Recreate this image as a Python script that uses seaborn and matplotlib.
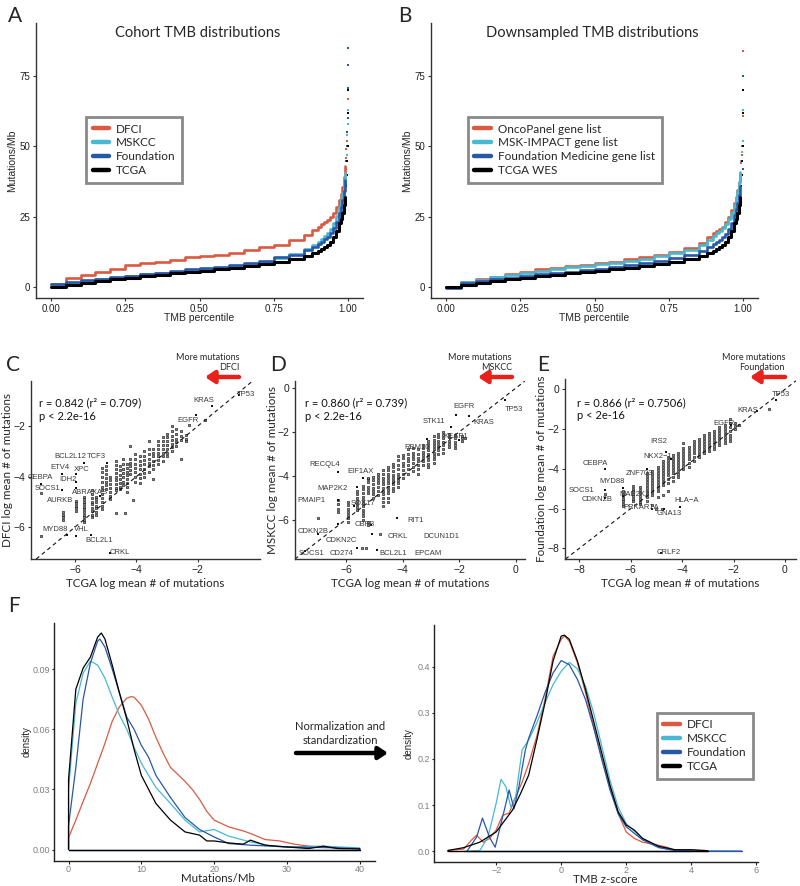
import matplotlib
matplotlib.use('Agg')
import matplotlib.pyplot as plt
from matplotlib.lines import Line2D
import pandas as pd
import seaborn as sns

W, H = 800, 886

RED = '#DA5A40'
CYAN = '#48B9D0'
BLUE = '#2758A8'
BLACK = '#000000'

# A / B: sorted TMB (Mutations/Mb) against percentile
pct = [0, 0.05, 0.1, 0.15, 0.2, 0.25, 0.3, 0.35, 0.4, 0.45, 0.5, 0.55, 0.6,
       0.65, 0.7, 0.75, 0.8, 0.85, 0.88, 0.9, 0.91, 0.92, 0.93, 0.94, 0.95,
       0.96, 0.97, 0.975, 0.98, 0.985, 0.99]
a_dfci = [1.0, 3.0, 4.2, 5.4, 6.5, 7.7, 8.3, 8.9, 9.5, 10.5, 11.0, 11.3, 12.1,
          13.1, 14.0, 14.9, 16.7, 18.5, 20.2, 21.4, 22.2, 23.0, 23.8, 25.0, 26.2,
          28.5, 31.0, 33.0, 35.7, 39.0, 42.9]
a_mskcc = [0.2, 1.4, 2.0, 2.6, 3.2, 3.8, 4.4, 5.0, 5.4, 5.7, 6.2, 6.5, 7.4,
           8.1, 8.9, 10.1, 11.7, 13.3, 14.9, 16.1, 17.0, 18.0, 19.0, 20.6, 22.6,
           25.2, 28.6, 30.8, 33.3, 36.5, 40.5]
a_found = [1.0, 1.8, 2.4, 2.6, 3.6, 4.0, 4.5, 5.0, 5.7, 6.2, 6.7, 7.1, 7.7,
           8.3, 9.3, 10.5, 11.3, 13.1, 14.3, 15.2, 16.0, 17.0, 17.9, 19.2, 20.8,
           23.2, 26.2, 28.5, 31.0, 34.2, 38.1]
tcga_tmb = [0.0, 0.8, 1.4, 2.0, 2.6, 3.2, 3.8, 4.3, 4.8, 5.2, 5.7, 6.2, 6.8,
            7.4, 8.1, 8.8, 9.8, 11.0, 11.9, 12.9, 13.5, 14.2, 14.9, 16.0, 17.6,
            19.8, 22.6, 24.3, 26.2, 29.0, 32.1]
b_onco = [0.0, 1.8, 2.6, 3.6, 4.5, 5.4, 6.2, 6.8, 7.4, 7.7, 8.3, 8.9, 9.8,
          10.5, 11.3, 12.5, 13.7, 15.7, 17.6, 19.0, 19.8, 20.6, 21.4, 23.0, 25.0,
          27.2, 29.8, 32.0, 34.5, 37.3, 40.5]
b_impact = [0.0, 1.6, 2.4, 3.4, 4.2, 5.0, 5.6, 6.3, 6.9, 7.4, 8.0, 8.6, 9.3,
            10.0, 11.0, 12.0, 13.2, 15.0, 16.8, 18.2, 19.0, 19.9, 20.8, 22.3, 24.0,
            26.3, 29.0, 31.3, 34.0, 37.3, 41.0]
b_fmi = [-0.4, 1.4, 2.0, 2.6, 3.2, 3.8, 4.4, 5.0, 5.4, 6.0, 6.5, 7.1, 7.7,
         8.3, 9.2, 10.1, 11.3, 12.8, 14.0, 15.2, 16.0, 16.8, 17.6, 18.9, 20.5,
         22.8, 25.5, 27.6, 30.0, 32.8, 36.0]

# sparse top-end samples
a_dfci_top_p = [0.992, 0.994, 0.996, 0.997, 0.998, 0.999, 1.0]
a_dfci_top = [46, 49, 52, 55, 58, 62, 67]
a_mskcc_top_p = [0.993, 0.995, 0.997, 0.999, 1.0]
a_mskcc_top = [45, 47, 54, 58, 63]
a_found_top_p = [0.992, 0.994, 0.996, 0.997, 0.998, 0.999, 1.0, 1.0]
a_found_top = [42, 45, 50, 55, 60, 71, 79, 85]
tcga_top_p = [0.993, 0.995, 0.997, 0.998, 0.999, 1.0]
tcga_top = [36, 40, 45, 50, 62, 70]
b_onco_top_p = [0.993, 0.995, 0.997, 0.999, 1.0]
b_onco_top = [44, 47, 50, 61, 84]
b_impact_top_p = [0.993, 0.996, 0.998, 1.0]
b_impact_top = [45, 48, 52, 63]
b_fmi_top_p = [0.993, 0.996, 0.999, 1.0]
b_fmi_top = [38, 40, 42, 75]

# C: TCGA (x) vs DFCI (y) log mean # of mutations, genes grouped by TCGA value
c_col_x = [-6.4, -5.98, -5.7, -5.46, -5.3, -5.13, -4.99, -4.86, -4.67, -4.55, -4.45,
           -4.3, -4.2, -4.05, -3.9, -3.75, -3.6, -3.45, -3.3, -3.15, -3.0, -2.85,
           -2.7, -2.55, -2.4]
c_col_y = [[-5.4, -5.5, -5.6, -5.7],
           [-4.95, -5.05, -5.15, -5.25, -5.35],
           [-4.8, -4.9, -5.0, -5.1, -5.2, -5.3, -5.4, -5.5, -5.6, -5.7, -5.8],
           [-4.55, -4.7, -4.85, -5.0, -5.1, -5.25, -5.35, -5.5, -5.6],
           [-4.8, -4.9, -5.0, -5.15, -5.25, -5.4, -5.5],
           [-3.65, -3.8, -4.0, -4.2, -4.4, -4.55, -4.7, -4.85, -5.0, -5.15, -5.3],
           [-3.6, -3.75, -3.9, -4.05, -4.2, -4.35, -4.5],
           [-4.0, -4.15, -4.3, -4.45, -4.6, -4.75, -4.9],
           [-3.4, -3.55, -3.7, -3.85, -4.0, -4.15, -4.3, -4.45, -4.55, -5.45],
           [-3.6, -3.75, -3.95, -4.1, -4.25, -4.4, -4.5],
           [-3.3, -3.5, -3.7, -3.85, -4.0, -4.2, -4.35],
           [-3.5, -3.65, -3.8, -3.95, -4.1, -4.25, -4.4, -4.6],
           [-2.8, -3.3, -3.45, -3.6, -3.75, -3.9],
           [-3.1, -3.3, -3.5, -3.65, -3.8, -4.0, -4.2],
           [-3.2, -3.4, -3.55, -3.7, -3.9, -4.05, -4.25],
           [-3.0, -3.2, -3.35, -3.5, -3.7, -3.85, -4.0],
           [-2.6, -2.9, -3.1, -3.3, -3.45, -3.6, -3.8],
           [-2.9, -3.05, -3.2, -3.4, -3.55, -3.7, -4.1],
           [-2.6, -2.75, -2.9, -3.05, -3.2, -3.35, -3.5],
           [-2.45, -2.6, -2.75, -2.9, -3.05, -3.2, -3.4],
           [-2.3, -2.45, -2.6, -2.75, -2.9, -3.05, -3.2],
           [-2.0, -2.2, -2.4, -2.55, -2.7, -2.85, -3.0],
           [-2.1, -2.3, -2.5, -2.65, -2.8],
           [-2.2, -2.4, -2.55, -3.3],
           [-2.35, -2.5, -2.6]]
c_extra = [(-4.11, -4.93), (-4.37, -5.44), (-2.3, -1.95), (-1.77, -1.77),
           (-7.1, -4.65), (-7.1, -6.35)]
c_genes = ['TP53', 'KRAS', 'EGFR', 'BCL2L12', 'TCF3', 'ETV4', 'XPC', 'CEBPA', 'IDH2',
           'SOCS1', 'AURKB', 'ABRAXAS', 'MYD88', 'VHL', 'BCL2L1', 'CRKL']
c_gene_tcga = [-0.65, -1.55, -2.07, -5.7, -4.95, -6.42, -5.98, -7.1, -5.98,
               -6.43, -5.98, -5.2, -6.27, -5.98, -5.48, -4.86]
c_gene_dfci = [-0.78, -1.2, -1.57, -3.45, -3.45, -3.9, -3.9, -4.3, -4.2,
               -4.55, -4.45, -4.75, -6.3, -6.35, -6.32, -7.03]

# D: TCGA vs MSKCC
d_col_x = [-6.29, -5.92, -5.62, -5.39, -5.21, -5.03, -4.86, -4.68, -4.5, -4.33, -4.15,
           -3.97, -3.8, -3.62, -3.44, -3.27, -3.09, -2.91, -2.74, -2.56, -2.38, -2.15,
           -1.91, -1.79]
d_col_y = [[-5.1, -5.3, -5.5, -5.65],
           [-5.2, -5.35, -5.5, -5.65, -5.8, -5.95, -6.1],
           [-4.7, -4.85, -5.0, -5.15, -5.3, -5.45, -5.55],
           [-4.45, -4.6, -4.8, -4.95, -5.1, -5.25, -5.4, -5.55, -5.7, -5.85, -6.0],
           [-4.15, -4.3, -4.5, -4.65, -4.8, -6.1, -6.25],
           [-4.05, -4.2, -4.4, -4.55, -4.7, -4.85, -5.0],
           [-3.9, -4.05, -4.2, -4.35, -4.5, -4.7, -4.9],
           [-3.75, -3.9, -4.1, -4.25, -4.4, -4.55, -4.7, -4.85, -5.0, -5.2, -5.4],
           [-3.6, -3.75, -3.9, -4.05, -4.2, -4.35, -4.5, -4.65, -4.8, -5.0, -5.2],
           [-3.45, -3.6, -3.8, -3.95, -4.1, -4.25, -4.4, -4.55, -4.7],
           [-3.1, -3.3, -3.5, -3.7, -3.9, -4.05, -4.2, -4.35, -4.5],
           [-3.05, -3.2, -3.4, -3.55, -3.75, -3.9, -4.1],
           [-2.8, -3.0, -3.2, -3.35, -3.5, -3.7, -3.9],
           [-2.75, -2.95, -3.1, -3.25, -3.4, -3.6, -3.8],
           [-2.8, -3.0, -3.2, -3.35, -3.5, -3.7, -3.9],
           [-2.6, -2.75, -2.9, -3.05, -3.2, -3.35, -3.5],
           [-2.4, -2.55, -2.7, -2.85, -3.0, -3.15, -3.3, -3.45, -3.6],
           [-2.2, -2.35, -2.5, -2.65, -2.8, -2.95, -3.1, -3.25, -3.4],
           [-2.1, -2.25, -2.4, -2.55, -2.7, -2.85, -3.0],
           [-2.0, -2.15, -2.3, -2.45, -2.6, -2.8, -2.95],
           [-2.1, -2.25, -2.4, -2.55, -2.7],
           [-2.15, -2.3, -2.45, -2.6, -2.75],
           [-2.2, -2.3, -2.4],
           [-2.3]]
d_extra = [(-6.98, -5.95), (-5.23, -4.12), (-4.8, -6.67), (-5.44, -7.32), (-5.3, -7.32)]
d_genes = ['TP53', 'EGFR', 'KRAS', 'STK11', 'KEAP1', 'RBM10', 'RECQL4', 'EIF1AX',
           'MAP2K2', 'PMAIP1', 'SOX17', 'CBFB', 'RIT1', 'CDKN2B', 'CDKN2C', 'CRKL',
           'SOCS1', 'CD274', 'BCL2L1']
d_gene_tcga = [-0.4, -2.12, -1.65, -2.29, -2.0, -3.15, -6.29, -5.39,
               -5.62, -6.29, -5.7, -5.1, -4.21, -7.0, -6.29, -5.07,
               -7.45, -5.62, -4.91]
d_gene_msk = [-0.55, -1.22, -1.28, -1.78, -2.35, -2.33, -3.82, -4.12,
              -4.5, -5.11, -5.4, -6.25, -5.95, -6.67, -6.22, -6.67,
              -7.45, -7.32, -7.37]

# E: TCGA vs Foundation
e_col_x = [-6.29, -5.9, -5.64, -5.38, -5.16, -4.93, -4.73, -4.54, -4.35, -4.15, -3.95,
           -3.75, -3.55, -3.35, -3.15, -2.95, -2.75, -2.55, -2.35, -2.15, -1.95, -1.8]
e_col_y = [[-5.1, -5.25, -5.35, -5.5, -5.6, -5.75, -5.85],
           [-4.85, -5.0, -5.1, -5.25, -5.35, -5.5, -5.6],
           [-4.9, -5.05, -5.2, -5.35, -5.5, -5.65, -5.75],
           [-4.2, -4.35, -4.5, -4.65, -4.8, -4.95, -5.1, -5.25, -5.4, -5.6],
           [-4.1, -4.25, -4.4, -4.55, -4.7, -4.85, -5.0, -5.15, -5.3, -5.8],
           [-3.9, -4.05, -4.2, -4.35, -4.5, -4.65, -4.8, -4.95, -5.1, -5.4],
           [-3.6, -3.75, -3.9, -4.05, -4.2, -4.35, -4.5, -4.65, -4.8, -5.3],
           [-3.4, -3.55, -3.7, -3.85, -4.0, -4.15, -4.3, -4.5, -4.7, -5.1],
           [-3.3, -3.45, -3.6, -3.75, -3.9, -4.05, -4.2, -4.4, -4.6],
           [-3.2, -3.35, -3.5, -3.65, -3.8, -3.95, -4.1, -4.25, -4.4],
           [-2.7, -2.95, -3.1, -3.25, -3.4, -3.55, -3.7, -3.85, -4.0],
           [-2.9, -3.05, -3.2, -3.35, -3.5, -3.7, -3.9],
           [-2.6, -2.75, -2.9, -3.05, -3.2, -3.4, -3.6],
           [-2.5, -2.65, -2.8, -2.95, -3.1, -3.25, -3.4],
           [-2.3, -2.45, -2.6, -2.75, -2.9, -3.05, -3.2],
           [-2.2, -2.35, -2.5, -2.65, -2.8, -2.95, -3.1],
           [-2.1, -2.25, -2.4, -2.55, -2.7, -2.85, -3.0],
           [-1.9, -2.05, -2.2, -2.35, -2.5, -2.65, -2.8],
           [-1.8, -1.95, -2.1, -2.25, -2.4, -2.55, -2.7],
           [-1.5, -1.7, -1.9, -2.1, -2.3, -2.45, -2.6],
           [-1.7, -1.85, -2.0],
           [-1.8]]
e_extra = [(-0.62, -0.97), (-7.0, -5.27), (-5.03, -6.03), (-4.8, -6.0)]
e_genes = ['TP53', 'KRAS', 'EGFR', 'IRS2', 'NKX2−1', 'CEBPA', 'ZNF703', 'MYD88',
           'SOCS1', 'MAP2K2', 'CDKN2B', 'PRKAR1A', 'GNA13', 'HLA−A', 'CRLF2']
e_gene_tcga = [-0.35, -1.1, -2.1, -4.64, -4.44, -7.0, -5.38, -6.29,
               -7.0, -6.3, -7.0, -5.16, -4.7, -4.09, -4.83]
e_gene_fnd = [-0.54, -1.08, -1.8, -3.16, -3.5, -4.0, -4.0, -4.96,
              -5.07, -5.35, -5.47, -6.03, -6.0, -5.91, -8.22]

# F left: density of Mutations/Mb
fl_x_dfci = [0, 1, 2, 3, 4, 5, 6, 7, 8, 8.6, 9, 10, 11, 12, 13, 14, 16, 17, 18, 19,
             20, 22, 24, 25, 27, 29, 31, 33, 35, 40]
fl_d_dfci = [0.006, 0.0147, 0.024, 0.033, 0.043, 0.053, 0.064, 0.0713, 0.0755, 0.0763,
             0.076, 0.072, 0.065, 0.056, 0.048, 0.041, 0.034, 0.03, 0.025, 0.019,
             0.0147, 0.0113, 0.0093, 0.008, 0.005, 0.0043, 0.0027, 0.0017, 0.0013, 0.0005]
fl_x_msk = [0, 1, 2, 3, 4, 5, 6, 7, 8, 9, 10, 12, 14, 16, 18, 20, 22, 25, 28, 30, 35, 40]
fl_d_msk = [0.03, 0.073, 0.088, 0.094, 0.092, 0.0855, 0.076, 0.067, 0.06, 0.051, 0.043,
            0.031, 0.023, 0.0147, 0.0088, 0.01, 0.0067, 0.0038, 0.0017, 0.0013, 0.0017, 0.0008]
fl_x_fnd = [0, 1, 2, 3, 4, 4.3, 5, 6, 7, 8, 9, 10, 11, 12, 14, 16, 18, 20, 22, 25, 30, 35, 40]
fl_d_fnd = [0.012, 0.041, 0.075, 0.093, 0.104, 0.105, 0.101, 0.09, 0.078, 0.066, 0.06,
            0.052, 0.046, 0.037, 0.026, 0.016, 0.01, 0.0063, 0.003, 0.0022, 0.0013, 0.001, 0.0005]
fl_x_tcga = [0, 1, 2, 3, 4, 4.5, 5, 6, 7, 8, 9, 10, 12, 14, 16, 18, 19, 20, 22, 24, 25,
             27, 30, 33, 35, 37, 40]
fl_d_tcga = [0.035, 0.08, 0.0905, 0.096, 0.106, 0.108, 0.105, 0.092, 0.078, 0.065, 0.05,
             0.037, 0.023, 0.0147, 0.0088, 0.0072, 0.0043, 0.0043, 0.0033, 0.0027, 0.0047,
             0.0022, 0.0013, 0.0005, 0.0017, 0.0005, 0.0003]

# F right: density of TMB z-score
fr_x_dfci = [-3.48, -3.0, -2.75, -2.6, -2.4, -2.2, -2.0, -1.8, -1.6, -1.4, -1.2, -1.0,
             -0.75, -0.5, -0.25, 0, 0.1, 0.25, 0.5, 0.75, 1.0, 1.25, 1.5, 1.75, 2.0,
             2.25, 2.5, 3.0, 3.25, 3.5, 4.0, 4.5]
fr_d_dfci = [0.002, 0.005, 0.025, 0.035, 0.02, 0.028, 0.046, 0.078, 0.083, 0.118, 0.15,
             0.19, 0.249, 0.328, 0.422, 0.459, 0.466, 0.455, 0.408, 0.343, 0.27, 0.201,
             0.14, 0.082, 0.042, 0.028, 0.02, 0.013, 0.009, 0.002, 0.002, 0.0015]
fr_x_msk = [-3.0, -2.5, -2.25, -2.0, -1.85, -1.7, -1.55, -1.4, -1.2, -1.0, -0.75, -0.5,
            -0.25, 0, 0.25, 0.5, 0.75, 1.0, 1.25, 1.5, 1.75, 2.0, 2.5, 3.0, 3.5, 4.0]
fr_d_msk = [0.0, 0.002, 0.031, 0.104, 0.156, 0.14, 0.096, 0.118, 0.22, 0.241, 0.278,
            0.321, 0.361, 0.39, 0.409, 0.395, 0.357, 0.299, 0.227, 0.154, 0.096, 0.06,
            0.028, 0.009, 0.002, 0.0015]
fr_x_fnd = [-2.9, -2.6, -2.42, -2.2, -2.03, -1.9, -1.75, -1.6, -1.45, -1.3, -1.1, -1.0,
            -0.75, -0.5, -0.25, 0, 0.25, 0.5, 0.75, 1.0, 1.25, 1.5, 1.75, 2.0, 2.5, 3.0,
            3.5, 4.0, 5.55]
fr_d_fnd = [0.0, 0.031, 0.072, 0.03, 0.009, 0.046, 0.089, 0.133, 0.092, 0.14, 0.22,
            0.245, 0.292, 0.343, 0.386, 0.413, 0.404, 0.372, 0.328, 0.267, 0.198, 0.133,
            0.082, 0.053, 0.025, 0.008, 0.002, 0.001, 0.0007]
fr_x_tcga = [-3.48, -3.0, -2.5, -2.0, -1.5, -1.25, -1.0, -0.75, -0.5, -0.25, 0, 0.1,
             0.25, 0.5, 0.75, 1.0, 1.25, 1.5, 1.75, 2.0, 2.25, 2.5, 3.0, 3.5, 4.0, 4.5]
fr_d_tcga = [0.002, 0.008, 0.02, 0.042, 0.089, 0.125, 0.165, 0.241, 0.321, 0.412, 0.466,
             0.468, 0.459, 0.412, 0.35, 0.281, 0.212, 0.143, 0.086, 0.057, 0.046, 0.028,
             0.011, 0.0036, 0.0036, 0.0015]

cohorts = ['DFCI', 'MSKCC', 'Foundation', 'TCGA']
b_labels = ['OncoPanel gene list', 'MSK-IMPACT gene list', 'Foundation Medicine gene list', 'TCGA WES']
colors = [RED, CYAN, BLUE, BLACK]

sns.set_theme(style='ticks')
plt.rcParams['font.family'] = ['Liberation Sans', 'DejaVu Sans']
CAL = ['Lato', 'DejaVu Sans']

fig = plt.figure(figsize=(W / 100, H / 100), dpi=100)


def px_rect(l, t, r, b):
    return [l / W, 1 - b / H, (r - l) / W, (b - t) / H]


def fx(x):
    return x / W


def fy(y):
    return 1 - y / H


def style(ax, size=7, color='#333333', labelcolor='#222222', length=2.5, pad=1.5):
    sns.despine(ax=ax)
    for s in ['left', 'bottom']:
        ax.spines[s].set_color(color)
        ax.spines[s].set_linewidth(1.0)
    ax.tick_params(colors=color, labelcolor=labelcolor, labelsize=size,
                   length=length, width=0.8, pad=pad)


def box_legend(ax, labels, anchor, size):
    handles = [Line2D([0], [0], color=c, lw=3.2) for c in colors]
    leg = ax.legend(handles, labels, loc='upper left', bbox_to_anchor=anchor,
                    borderaxespad=0, frameon=True, fancybox=False, framealpha=1,
                    handlelength=1.4, handletextpad=0.6, labelspacing=0.25,
                    borderpad=0.55, prop={'family': CAL, 'size': size})
    leg.get_frame().set_edgecolor('#8a8a8a')
    leg.get_frame().set_linewidth(2.0)


def percentile_panel(ax, series, tops, title, title_x):
    for (vals, (tp, tv)), c in zip(zip(series, tops), colors):
        lw = 2.2 if c == BLACK else 1.9
        sns.lineplot(x=pct, y=vals, color=c, lw=lw, drawstyle='steps-post',
                     estimator=None, sort=False, ax=ax)
        sns.scatterplot(x=tp, y=tv, color=c, s=4, marker='s', linewidth=0, ax=ax)
    ax.set_xlim(-0.05, 1.05)
    ax.set_ylim(-4, 94)
    ax.set_xticks([0, 0.25, 0.5, 0.75, 1.0])
    ax.set_xticklabels(['0.00', '0.25', '0.50', '0.75', '1.00'])
    ax.set_yticks([0, 25, 50, 75])
    style(ax, size=7)
    ax.set_xlabel('TMB percentile', fontsize=7.5)
    ax.set_ylabel('Mutations/Mb', fontsize=7.5)
    ax.xaxis.set_label_coords(0.5, -0.055)
    ax.yaxis.set_label_coords(-0.057, 0.5)
    fig.text(fx(title_x), fy(33), title, family=CAL, fontsize=10.5, ha='center', va='center')


# Panel A
axA = fig.add_axes(px_rect(36, 23, 363, 298))
percentile_panel(axA, [a_dfci, a_mskcc, a_found, tcga_tmb],
                 [(a_dfci_top_p, a_dfci_top), (a_mskcc_top_p, a_mskcc_top),
                  (a_found_top_p, a_found_top), (tcga_top_p, tcga_top)],
                 'Cohort TMB distributions', 198)
box_legend(axA, cohorts, (0.153, 0.658), 8.5)

# Panel B
axB = fig.add_axes(px_rect(431, 23, 758, 298))
percentile_panel(axB, [b_onco, b_impact, b_fmi, tcga_tmb],
                 [(b_onco_top_p, b_onco_top), (b_impact_top_p, b_impact_top),
                  (b_fmi_top_p, b_fmi_top), (tcga_top_p, tcga_top)],
                 'Downsampled TMB distributions', 592)
box_legend(axB, b_labels, (0.113, 0.658), 8.5)


def gene_frame(col_x, col_y, extra):
    rows = [(x, y) for x, ys in zip(col_x, col_y) for y in ys] + list(extra)
    return pd.DataFrame(rows, columns=['tcga', 'cohort'])


def scatter_panel(ax, df, genes, gx, gy, lab_pos, xlim, ylim, ticks, ylabel,
                  r_text, p_text, txt_xy, cohort, arrow_px, ylab_x):
    sns.scatterplot(data=df, x='tcga', y='cohort', marker='s', s=4.2,
                    facecolor='#8c8c8c', edgecolor='#111111', linewidth=0.45, ax=ax)
    sns.scatterplot(x=gx, y=gy, marker='s', s=3.5, color='#111111', linewidth=0, ax=ax)
    for g, (lx, ly) in zip(genes, lab_pos):
        ax.text(lx, ly, g, fontsize=5.5, color='#3a3a3a', ha='center', va='center')
    ax.axline((0, 0), slope=1, color='#111111', lw=0.8, ls=(0, (3.5, 3)))
    ax.set_xlim(*xlim)
    ax.set_ylim(*ylim)
    ax.set_xticks(ticks)
    ax.set_yticks([t for t in ticks if ylim[0] < t < ylim[1]])
    style(ax, size=7.5)
    ax.set_xlabel('TCGA log mean # of mutations', family=CAL, fontsize=8.4)
    ax.set_ylabel(ylabel, family=CAL, fontsize=8.4)
    ax.xaxis.set_label_coords(0.5, -0.105)
    ax.yaxis.set_label_coords(ylab_x, 0.5)
    ax.text(txt_xy[0], txt_xy[1], r_text, transform=ax.transAxes, family=CAL,
            fontsize=8, va='center', color='#111111')
    ax.text(txt_xy[0], txt_xy[1] - 0.072, p_text, transform=ax.transAxes, family=CAL,
            fontsize=8, va='center', color='#111111')
    right, left, yy = arrow_px
    fig.text(fx(right), fy(357), 'More mutations', family=CAL, fontsize=6.5,
             ha='right', va='center')
    fig.text(fx(right), fy(368), cohort, family=CAL, fontsize=6.5, ha='right', va='center')
    ax.annotate('', xy=(fx(left), fy(yy)), xytext=(fx(right), fy(yy)),
                xycoords='figure fraction', textcoords='figure fraction',
                arrowprops=dict(arrowstyle='-|>,head_width=0.3,head_length=0.45',
                                color='#E8211C', lw=3.2, mutation_scale=12,
                                shrinkA=0, shrinkB=0))


# Panel C
axC = fig.add_axes(px_rect(31, 381, 260, 559))
c_lab = [(-0.45, -0.74), (-1.8, -0.98), (-2.32, -1.77), (-6.16, -3.22), (-5.3, -3.22),
         (-6.49, -3.66), (-5.78, -3.73), (-7.12, -4.05), (-6.23, -4.1), (-6.89, -4.47),
         (-6.49, -4.93), (-5.5, -4.63), (-6.65, -6.08), (-5.78, -6.1), (-5.21, -6.51),
         (-4.54, -6.99)]
scatter_panel(axC, gene_frame(c_col_x, c_col_y, c_extra), c_genes, c_gene_tcga, c_gene_dfci,
              c_lab, (-7.43, 0.02), (-7.26, -0.22), [-6, -4, -2], 'DFCI log mean # of mutations',
              'r = 0.842 (r² = 0.709)', 'p < 2.2e-16', (0.035, 0.875), 'DFCI', (239, 205, 377),
              -0.079)

# Panel D
axD = fig.add_axes(px_rect(295, 381, 525, 559))
d_lab = [(-0.08, -0.97), (-1.83, -0.85), (-1.12, -1.58), (-2.88, -1.54), (-2.11, -2.22),
         (-3.5, -2.71), (-6.74, -3.47), (-5.47, -3.79), (-6.48, -4.58), (-7.21, -5.14),
         (-5.39, -5.27), (-5.33, -6.22), (-3.54, -6.03), (-7.15, -6.56), (-6.15, -6.94),
         (-4.18, -6.76), (-7.23, -7.55), (-6.15, -7.55), (-4.33, -7.55)]
scatter_panel(axD, gene_frame(d_col_x, d_col_y, d_extra), d_genes, d_gene_tcga, d_gene_msk,
              d_lab, (-7.8, 0.32), (-7.8, 0.32), [-6, -4, -2, 0], 'MSKCC log mean # of mutations',
              'r = 0.860 (r² = 0.739)', 'p < 2.2e-16', (0.043, 0.875), 'MSKCC', (512, 478, 377),
              -0.072)
axD.text(-2.62, -6.76, 'DCUN1D1', fontsize=5.5, color='#3a3a3a', ha='center', va='center')
axD.text(-3.09, -7.55, 'EPCAM', fontsize=5.5, color='#3a3a3a', ha='center', va='center')

# Panel E
axE = fig.add_axes(px_rect(565, 379, 796, 559))
e_lab = [(-0.16, -0.24), (-1.45, -1.08), (-2.36, -1.72), (-4.9, -2.65), (-4.95, -3.38),
         (-7.37, -3.72), (-5.68, -4.26), (-6.74, -4.63), (-7.91, -5.07), (-5.84, -5.27),
         (-7.3, -5.56), (-5.6, -5.94), (-4.51, -6.25), (-3.83, -5.6), (-4.51, -8.22)]
scatter_panel(axE, gene_frame(e_col_x, e_col_y, e_extra), e_genes, e_gene_tcga, e_gene_fnd,
              e_lab, (-8.56, 0.43), (-8.54, 0.52), [-8, -6, -4, -2, 0],
              'Foundation log mean # of mutations',
              'r = 0.866 (r² = 0.7506)', 'p < 2e-16', (0.05, 0.868), 'Foundation', (785, 750, 377),
              -0.08)


def density_panel(ax, curves, xlim, ylim, xticks, yticks, yfmt, xlabel):
    for (xs, ds), c in zip(curves, colors):
        xx = [xs[0]] + xs + [xs[-1]]
        dd = [0] + ds + [0]
        sns.lineplot(x=xx, y=dd, color=c, lw=0.9, estimator=None, sort=False, ax=ax)
        ax.plot([xs[0], xs[-1]], [0, 0], color=c, lw=0.9)
    ax.set_xlim(*xlim)
    ax.set_ylim(*ylim)
    ax.set_xticks(xticks)
    ax.set_yticks(yticks)
    ax.set_yticklabels([yfmt.format(v) for v in yticks])
    style(ax, size=6.5, color='#222222', labelcolor='#7f7f7f', length=1.8, pad=1.0)
    ax.set_xlabel(xlabel, family=CAL, fontsize=8.3)
    ax.set_ylabel('density', fontsize=7)


# Panel F left
axF1 = fig.add_axes(px_rect(54, 623, 375, 861))
density_panel(axF1, [(fl_x_dfci, fl_d_dfci), (fl_x_msk, fl_d_msk),
                     (fl_x_fnd, fl_d_fnd), (fl_x_tcga, fl_d_tcga)],
              (-2.0, 42.1), (-0.0057, 0.113), [0, 10, 20, 30, 40],
              [0.0, 0.03, 0.06, 0.09], '{:.2f}', 'Mutations/Mb')
axF1.xaxis.set_label_coords(0.51, -0.05)
axF1.yaxis.set_label_coords(-0.069, 0.5)

# Panel F right
axF2 = fig.add_axes(px_rect(434, 625, 758, 862))
density_panel(axF2, [(fr_x_dfci, fr_d_dfci), (fr_x_msk, fr_d_msk),
                     (fr_x_fnd, fr_d_fnd), (fr_x_tcga, fr_d_tcga)],
              (-3.91, 6.05), (-0.023, 0.49), [-2, 0, 2, 4, 6],
              [0.0, 0.1, 0.2, 0.3, 0.4], '{:.1f}', 'TMB z-score')
axF2.xaxis.set_label_coords(0.53, -0.052)
axF2.yaxis.set_label_coords(-0.062, 0.5)
box_legend(axF2, cohorts, (0.688, 0.629), 8.5)

# arrow between the F panels
fig.text(fx(340), fy(727), 'Normalization and', family=CAL, fontsize=8, ha='center', va='center')
fig.text(fx(340), fy(741), 'standardization', family=CAL, fontsize=8, ha='center', va='center')
axF1.annotate('', xy=(fx(388), fy(753)), xytext=(fx(296), fy(753)),
              xycoords='figure fraction', textcoords='figure fraction',
              arrowprops=dict(arrowstyle='-|>,head_width=0.3,head_length=0.45',
                              color='black', lw=3.2, mutation_scale=12,
                              shrinkA=0, shrinkB=0))

# panel letters
for letter, x, y in [('A', 8, 6), ('B', 398, 6), ('C', 6, 355), ('D', 270, 355),
                     ('E', 537, 355), ('F', 8, 596)]:
    fig.text(fx(x), fy(y), letter, family=CAL, fontsize=15, ha='left', va='top')

fig.savefig('out.png', dpi=100)
